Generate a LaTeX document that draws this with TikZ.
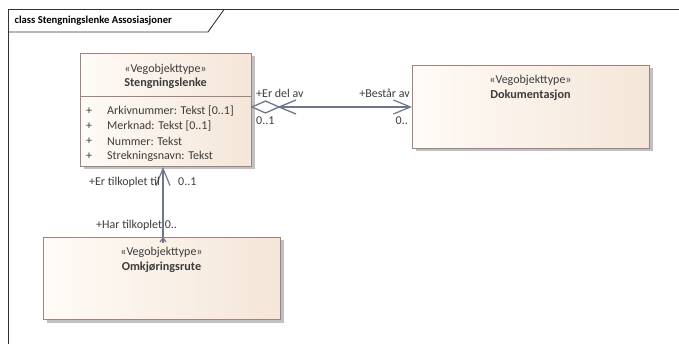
\documentclass[tikz,border=0pt]{standalone}
\usepackage{fontspec}
\setmainfont{Carlito}
\usetikzlibrary{arrows.meta,shadows}
\definecolor{txt}{RGB}{60,60,60}
\definecolor{bord}{RGB}{160,130,130}
\definecolor{fillA}{RGB}{255,251,247}
\definecolor{fillB}{RGB}{244,230,216}
\definecolor{conn}{RGB}{110,118,140}
\definecolor{frm}{RGB}{50,50,50}
\tikzset{
  classbox/.style={draw=bord, line width=1pt, left color=fillA, right color=fillB,
    drop shadow={shadow xshift=3pt, shadow yshift=-3pt, fill=black!35, opacity=0.7},
    anchor=north west, inner sep=0pt},
  lbl/.style={text=txt, font=\fontsize{12}{14}\selectfont, inner sep=0pt},
  stereo/.style={lbl, anchor=center},
  cname/.style={lbl, font=\fontsize{12.2}{14}\selectfont\bfseries},
  attr/.style={lbl, anchor=west},
  cline/.style={draw=conn, line width=1.3pt},
  barb/.style={-{Straight Barb[length=17pt,width=14pt,line width=1.2pt]}},
}
\begin{document}
\begin{tikzpicture}[x=1pt,y=-1pt]
\useasboundingbox (0,0) rectangle (679,344);
% frame
\draw[frm, line width=0.9pt] (679,9.5) -- (8,9.5) -- (8,344);
\draw[frm, line width=0.9pt] (8,32) -- (208,32) -- (224,9.5);
\node[lbl, font=\fontsize{10.6}{12}\selectfont\bfseries, text=black, anchor=west] (title) at (14.5,20.5) {class Stengningslenke Assosiasjoner};

% classes
\node[classbox, minimum width=171pt, minimum height=113pt] (sl) at (80,53) {};
\draw[bord, line width=1pt] (80,97) -- (251,97);
\node[stereo] (slst) at (165.5,69) {«Vegobjekttype»};
\node[cname] (slnm) at (165.5,83.5) {Stengningslenke};
\node[attr] (p1) at (86,111) {+};
\node[attr] (a1) at (107,111) {Arkivnummer: Tekst [0..1]};
\node[attr] (p2) at (86,126) {+};
\node[attr] (a2) at (107,126) {Merknad: Tekst [0..1]};
\node[attr] (p3) at (86,141) {+};
\node[attr] (a3) at (107,141) {Nummer: Tekst};
\node[attr] (p4) at (86,156) {+};
\node[attr] (a4) at (107,156) {Strekningsnavn: Tekst};

\node[classbox, minimum width=237pt, minimum height=83pt] (dk) at (412,65) {};
\node[stereo] (dkst) at (530.5,80) {«Vegobjekttype»};
\node[cname] (dknm) at (530.5,95) {Dokumentasjon};

\node[classbox, minimum width=237pt, minimum height=82pt] (om) at (43,237) {};
\node[stereo] (omst) at (161.5,252) {«Vegobjekttype»};
\node[cname] (omnm) at (161.5,267) {Omkjøringsrute};

% horizontal association
\coordinate (h0) at (sl.east |- dk.west);
\coordinate (hd) at ([xshift=27pt]h0);
\draw[cline, fill=white] (h0) -- ([xshift=13.5pt,yshift=6pt]h0) -- (hd) -- ([xshift=13.5pt,yshift=-6pt]h0) -- cycle;
\draw[cline] ([xshift=17pt,yshift=-7pt]hd) -- (hd) -- ([xshift=17pt,yshift=7pt]hd);
\draw[cline, barb] (hd) -- (dk.west);
\node[lbl, anchor=west] (erdel) at (256,93) {+Er del av};
\node[lbl, anchor=west] (m1) at (256,120.5) {0..1};
\node[lbl, anchor=east] (bestar) at (410,93) {+Består av};
\node[lbl, anchor=east] (m2) at (408,120.5) {0..};

% vertical association
\coordinate (vt) at (163,167);
\coordinate (vb) at (163,237);
\draw[cline, barb] (vb) -- (vt);
\draw[cline, -{Straight Barb[length=4pt,width=6pt,line width=1.2pt]}] ([yshift=-6pt]vb) -- (vb);
\node[lbl, anchor=east] (ertil) at (160,182) {+Er tilkoplet til};
\node[lbl, anchor=west] (m3) at (178,182) {0..1};
\node[lbl, anchor=west] (hartil) at (96,225) {+Har tilkoplet 0..};
\end{tikzpicture}
\end{document}
